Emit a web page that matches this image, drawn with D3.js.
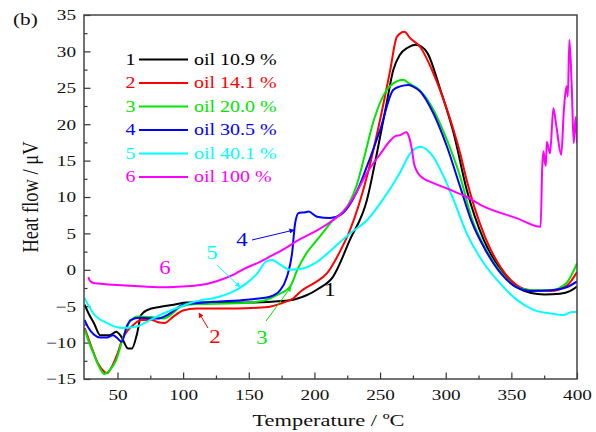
<!DOCTYPE html>
<html>
<head>
<meta charset="utf-8">
<script src="https://cdn.jsdelivr.net/npm/d3@7.9.0/dist/d3.min.js"></script>
<style>
  body { margin: 0; background: #fff; }
  svg text { font-family: "Liberation Serif", "Times New Roman", serif; }
</style>
</head>
<body>
<svg id="chart" width="596" height="432"></svg>
<script>
// data: [temperature °C, heat flow μV]
const labels = ['oil 10.9 %', 'oil 14.1 %', 'oil 20.0 %', 'oil 30.5 %', 'oil 40.1 %', 'oil 100 %'];
const colors = ['#000000', '#ff0000', '#00e600', '#0000ff', '#00ffff', '#ff00ff'];

const curve1 = [[25,-4.8],[28,-6.0],[32,-7.3],[37,-9.0],[44,-9.0],[49,-8.5],[53,-9.2],[58,-10.8],[61,-10.8],[65,-8.7],[68,-6.2],[73,-5.5],[82,-5.1],[93,-4.8],[103,-4.5],[120,-4.5],[150,-4.5],[175,-4.3],[186,-4.0],[194,-3.5],[203,-2.6],[214,-1.0],[227,4.1],[240,9.6],[247.6,16],[255,22.9],[260,27.4],[265,29.5],[271,30.5],[277,30.9],[282,30.6],[286,29.8],[296,24.7],[306,18.8],[316,11],[329,4.1],[342,0],[354,-2.3],[365,-3.2],[375,-3.4],[387,-3.3],[395,-2.9],[400,-2.3]];
const curve2 = [[25,-8.0],[30,-10.5],[35,-12.8],[40,-14.0],[42,-14.2],[46,-13.2],[50,-11.5],[54,-9.4],[58,-8.3],[62,-7.6],[68,-6.9],[76,-6.9],[81,-7.2],[86,-7.3],[92,-6.5],[100,-5.6],[110,-5.3],[140,-5.3],[165,-5.1],[175,-4.6],[184,-3.9],[190,-2.9],[200,-1.8],[209.5,-0.5],[220,2.7],[227,5.4],[240,12.8],[250,20.6],[257.7,27.4],[262.8,32],[268.5,32.7],[273,31.8],[280.6,30.6],[290.6,27],[301,22],[311,16],[316,12.3],[322,8.5],[330,4.5],[342,0.3],[354,-2.1],[365,-2.8],[380,-2.9],[392,-2.2],[400,-0.3]];
const curve3 = [[25,-8.2],[28,-9.8],[32,-11.6],[36,-13.3],[40,-14.3],[44,-13.8],[49,-12.4],[54.5,-9.2],[59.6,-7.1],[66,-6.4],[75,-6.5],[85,-6.7],[92,-6],[98,-5.1],[110,-4.7],[140,-4.6],[160,-4.3],[171,-3.5],[181.5,-2.3],[187,0],[194,2.3],[202,4.1],[214,6.8],[226,9.0],[232,11.5],[238,15.5],[245,20.4],[255,24.7],[260,25.6],[267.6,26.1],[272,25.6],[280,24.7],[290.6,22],[301,17.8],[311,12.8],[320,7],[330,3],[342,-0.3],[354,-2.4],[365,-2.8],[380,-2.8],[392,-1.8],[400,0.9]];
const curve4 = [[25,-6.9],[28,-8.0],[32,-8.9],[36.7,-9.3],[42,-9.3],[46.6,-9.0],[50,-9.4],[53.2,-9.9],[57,-7.8],[60,-6.9],[67,-6.6],[80,-6.7],[90,-6],[100,-4.8],[123,-4.4],[148.5,-4.1],[166,-3.7],[174,-2.8],[179,-1],[183,2.3],[185.3,6.4],[188,7.8],[193,7.9],[195.5,8],[202,7.3],[212,7.1],[219.6,7.5],[226,8.7],[232,10.6],[240,14.2],[250,19.2],[260,24.7],[265.3,25.2],[271.7,25.4],[276,25.1],[280.6,24.5],[290.6,21.5],[301,16.9],[311,11.4],[320,6.5],[330,2.8],[342,-0.5],[354,-2.4],[365,-2.9],[380,-2.8],[392,-2.4],[400,-1.6]];
const curve5 = [[25,-3.9],[31.6,-6],[41.8,-7.3],[48,-7.8],[54.5,-8],[64.6,-7.8],[74.8,-6.9],[85,-6],[97.6,-5.1],[105,-4.6],[113,-4.2],[123,-3.9],[138,-3.0],[148,-1.9],[156,-0.6],[163.7,1.2],[168,1.35],[174,0.7],[181.5,0],[189,0.1],[202,1.1],[214,2.9],[227,5],[240,6.8],[252,9.6],[265,13.3],[273,16],[280.6,16.9],[290.6,15.5],[298.5,12.8],[306,9.6],[316,5],[329,0.9],[341.6,-1.9],[354,-4.1],[367,-5.5],[380,-6],[390,-6.2],[396,-5.8],[400,-5.8]];
const curve6 = [[27.8,-1.0],[29,-1.5],[31.6,-1.8],[36.7,-1.9],[50,-2.1],[70,-2.3],[87.5,-2.4],[100,-2.3],[113,-2.1],[125,-1.6],[138,-0.7],[145,0],[158.6,1.1],[167,1.9],[176.4,2.8],[189,4.2],[202,5.4],[214,6.8],[222,8.0],[230,10.0],[240,13.3],[250.5,16],[258,17.8],[262,18.4],[265.3,18.5],[270,18.9],[272,18.3],[274.3,16.5],[276,14.5],[280.6,12.9],[290.7,11.9],[303.4,11],[316,10],[328.8,8.7],[354,7.1],[372.3,5.9],[373.5,14],[374.5,16.3],[375.5,14.8],[376.3,14.3],[377,17.6],[379.5,16],[382,22.2],[384.3,19.7],[388,15.8],[390,21.9],[392,25.2],[393,23.8],[394.2,31.6],[396,25.2],[397.5,17.4],[399,21],[400,17.4]];
const curves = [curve1, curve2, curve3, curve4, curve5, curve6];

const xTicks = [50, 100, 150, 200, 250, 300, 350, 400];
const yTicks = [-15, -10, -5, 0, 5, 10, 15, 20, 25, 30, 35];

const svg = d3.select('#chart');
const margin = {top: 15, right: 19, bottom: 53, left: 84};
const width = 596 - margin.left - margin.right;
const height = 432 - margin.top - margin.bottom;
const sx = 1.28; // the figure's text looks stretched sideways

const x = d3.scaleLinear().domain([24.5, 400]).range([0, width]);
const y = d3.scaleLinear().domain([-15, 35]).range([height, 0]);

const g = svg.append('g').attr('transform', `translate(${margin.left},${margin.top})`);

g.append('clipPath').attr('id', 'clip')
  .append('rect').attr('width', width).attr('height', height);

// minor ticks
g.append('g').attr('transform', `translate(0,${height})`)
  .call(d3.axisBottom(x).tickValues(d3.range(75, 400, 50)).tickSize(-3.5).tickFormat(''))
  .call(a => a.select('.domain').remove());
g.append('g')
  .call(d3.axisLeft(y).tickValues(d3.range(-12.5, 35, 5)).tickSize(-3.5).tickFormat(''))
  .call(a => a.select('.domain').remove());

// major ticks
const xAxis = g.append('g').attr('transform', `translate(0,${height})`)
  .call(d3.axisBottom(x).tickValues(xTicks).tickSize(-6.5).tickPadding(10));
xAxis.select('.domain').remove();
xAxis.selectAll('text').attr('font-size', 15).attr('fill', '#111')
  .attr('transform', `scale(${sx},1)`);

const yAxis = g.append('g')
  .call(d3.axisLeft(y).tickValues(yTicks).tickSize(-6.5));
yAxis.select('.domain').remove();
yAxis.selectAll('text').attr('font-size', 15).attr('fill', '#111')
  .attr('x', -8 / sx).attr('transform', `scale(${sx},1)`);

g.selectAll('.tick line').attr('stroke', '#333').attr('stroke-width', 1.2);

// curves
const line = d3.line()
  .x(d => x(d[0]))
  .y(d => y(d[1]))
  .curve(d3.curveMonotoneX);

g.append('g').attr('clip-path', 'url(#clip)')
  .selectAll('path')
  .data(curves)
  .join('path')
  .attr('d', line)
  .attr('fill', 'none')
  .attr('stroke', (d, i) => colors[i])
  .attr('stroke-width', 2)
  .attr('stroke-linejoin', 'round');

// frame
g.append('rect')
  .attr('width', width).attr('height', height)
  .attr('fill', 'none').attr('stroke', '#444').attr('stroke-width', 1.5);

function stretched(sel, px, py, size, sxx, anchor) {
  return sel.append('text')
    .attr('transform', `translate(${px},${py}) scale(${sxx},1)`)
    .attr('font-size', size)
    .attr('text-anchor', anchor || 'start')
    .attr('dominant-baseline', 'central');
}

// legend
labels.forEach((lab, i) => {
  const ly = 59.5 + i * 23.5 - margin.top;
  stretched(g, 130.5 - margin.left, ly, 16, 1.25, 'middle').attr('fill', colors[i]).text(i + 1);
  g.append('line')
    .attr('x1', 139 - margin.left).attr('x2', 188 - margin.left)
    .attr('y1', ly).attr('y2', ly)
    .attr('stroke', colors[i]).attr('stroke-width', 2);
  stretched(g, 194 - margin.left, ly, 16, 1.25).attr('fill', colors[i]).text(lab);
});

// curve annotations: number labels and arrows
const notes = [
  {n: 1, at: [330, 290], arrow: null},
  {n: 2, at: [215, 337], arrow: [[208, 328], [199, 313]]},
  {n: 3, at: [262, 338], arrow: [[266, 321], [291, 287]]},
  {n: 4, at: [242, 240], arrow: [[252, 240], [294, 230]]},
  {n: 5, at: [212, 253], arrow: [[217, 265], [240, 287]]},
  {n: 6, at: [165, 268], arrow: null}
];
const defs = svg.append('defs');
colors.forEach((c, i) => {
  defs.append('marker')
    .attr('id', 'arr' + i)
    .attr('viewBox', '0 0 10 10').attr('refX', 9).attr('refY', 5)
    .attr('markerWidth', 7).attr('markerHeight', 5)
    .attr('orient', 'auto')
    .append('path').attr('d', 'M0,0L10,5L0,10Z').attr('fill', c);
});
notes.forEach(d => {
  const i = d.n - 1;
  stretched(svg, d.at[0], d.at[1], 19, 1.2, 'middle').attr('fill', colors[i]).text(d.n);
  if (d.arrow) {
    svg.append('line')
      .attr('x1', d.arrow[0][0]).attr('y1', d.arrow[0][1])
      .attr('x2', d.arrow[1][0]).attr('y2', d.arrow[1][1])
      .attr('stroke', colors[i]).attr('stroke-width', 1)
      .attr('marker-end', `url(#arr${i})`);
  }
});

// titles
stretched(svg, margin.left + width / 2 - 2, 420, 17.5, 1.28, 'middle').attr('fill', '#111')
  .text('Temperature / ºC');
svg.append('text')
  .attr('transform', `translate(30,${margin.top + height / 2}) rotate(-90) scale(1,1.25)`)
  .attr('font-size', 18.5).attr('text-anchor', 'middle').attr('dominant-baseline', 'central')
  .attr('fill', '#111')
  .text('Heat flow / μV');
stretched(svg, 13, 19, 17, 1.25).attr('fill', '#111').text('(b)');
</script>
</body>
</html>
